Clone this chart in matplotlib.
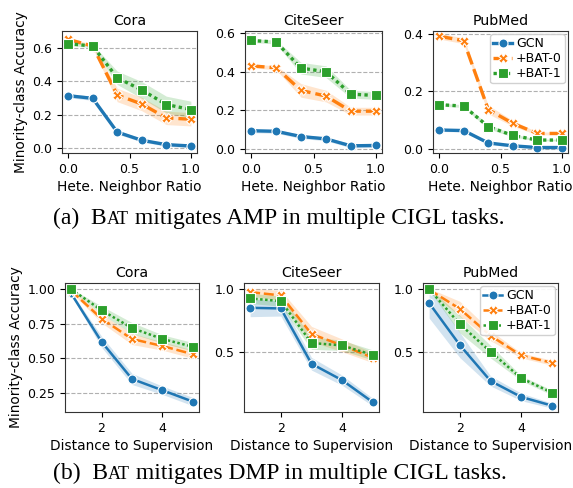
import matplotlib
matplotlib.use("Agg")
import matplotlib.pyplot as plt
import numpy as np

# x values
ratio = [0.0, 0.2, 0.4, 0.6, 0.8, 1.0]
dist = [1, 2, 3, 4, 5]

methods = ["GCN", "+BAT-0", "+BAT-1"]

# (a) hete. neighbor ratio -> minority-class accuracy
cora_a_gcn = [0.313, 0.297, 0.095, 0.046, 0.020, 0.012]
cora_a_bat0 = [0.650, 0.610, 0.317, 0.263, 0.180, 0.172]
cora_a_bat1 = [0.624, 0.610, 0.420, 0.347, 0.260, 0.230]
cite_a_gcn = [0.095, 0.092, 0.065, 0.053, 0.017, 0.019]
cite_a_bat0 = [0.430, 0.420, 0.303, 0.274, 0.196, 0.196]
cite_a_bat1 = [0.561, 0.553, 0.418, 0.400, 0.284, 0.277]
pub_a_gcn = [0.066, 0.064, 0.021, 0.011, 0.005, 0.005]
pub_a_bat0 = [0.392, 0.376, 0.137, 0.089, 0.054, 0.054]
pub_a_bat1 = [0.154, 0.149, 0.078, 0.047, 0.031, 0.031]

# band half widths
cora_a_gcn_sd = [0.012, 0.012, 0.012, 0.010, 0.010, 0.010]
cora_a_bat0_sd = [0.010, 0.010, 0.040, 0.040, 0.040, 0.040]
cora_a_bat1_sd = [0.010, 0.010, 0.040, 0.050, 0.050, 0.050]
cite_a_gcn_sd = [0.010, 0.010, 0.010, 0.010, 0.010, 0.010]
cite_a_bat0_sd = [0.010, 0.010, 0.035, 0.030, 0.020, 0.020]
cite_a_bat1_sd = [0.010, 0.010, 0.030, 0.030, 0.020, 0.020]
pub_a_gcn_sd = [0.005, 0.005, 0.005, 0.005, 0.004, 0.004]
pub_a_bat0_sd = [0.010, 0.010, 0.015, 0.010, 0.005, 0.005]
pub_a_bat1_sd = [0.005, 0.005, 0.008, 0.005, 0.003, 0.003]

# (b) distance to supervision -> minority-class accuracy
cora_b_gcn = [0.970, 0.620, 0.351, 0.269, 0.187]
cora_b_bat0 = [0.990, 0.787, 0.640, 0.589, 0.530]
cora_b_bat1 = [1.000, 0.848, 0.719, 0.640, 0.584]
cite_b_gcn = [0.852, 0.847, 0.410, 0.280, 0.106]
cite_b_bat0 = [0.976, 0.950, 0.645, 0.555, 0.458]
cite_b_bat1 = [0.926, 0.905, 0.574, 0.555, 0.479]
pub_b_gcn = [0.888, 0.553, 0.267, 0.139, 0.070]
pub_b_bat0 = [0.995, 0.842, 0.628, 0.470, 0.412]
pub_b_bat1 = [1.000, 0.720, 0.500, 0.289, 0.174]

cora_b_gcn_sd = [0.010, 0.040, 0.040, 0.030, 0.030]
cora_b_bat0_sd = [0.010, 0.030, 0.040, 0.030, 0.030]
cora_b_bat1_sd = [0.005, 0.030, 0.040, 0.030, 0.030]
cite_b_gcn_sd = [0.070, 0.060, 0.050, 0.040, 0.030]
cite_b_bat0_sd = [0.030, 0.040, 0.060, 0.050, 0.040]
cite_b_bat1_sd = [0.040, 0.040, 0.050, 0.040, 0.040]
pub_b_gcn_sd = [0.120, 0.100, 0.040, 0.030, 0.020]
pub_b_bat0_sd = [0.010, 0.060, 0.040, 0.020, 0.020]
pub_b_bat1_sd = [0.010, 0.070, 0.050, 0.020, 0.020]

colors = ["#1f77b4", "#ff7f0e", "#2ca02c"]
markers = ["o", "X", "s"]
dashes = [None, (4, 1.5), (1, 1)]

fig = plt.figure(figsize=(5.73, 4.88), dpi=100)

W, H = 573.0, 488.0
def add_ax(l, r, t, b):
    return fig.add_axes([l / W, 1 - b / H, (r - l) / W, (b - t) / H])

top_axes = [add_ax(62, 197, 31, 153), add_ax(245, 382, 31, 153), add_ax(433, 568, 31, 153)]
bot_axes = [add_ax(65, 199, 283, 412), add_ax(244, 379, 283, 412), add_ax(423, 558, 283, 412)]

def draw(ax, x, ys, sds, lw, ms):
    for i, (y, sd) in enumerate(zip(ys, sds)):
        y = np.array(y)
        sd = np.array(sd)
        ax.fill_between(x, y - sd, y + sd, color=colors[i], alpha=0.2, lw=0)
        line, = ax.plot(x, y, color=colors[i], lw=lw, marker=markers[i], ms=ms,
                        mec="white", mew=0.8, label=methods[i])
        if dashes[i] is not None:
            line.set_dashes(dashes[i])
    ax.grid(axis="y", ls="--", color="#b0b0b0", lw=0.8)
    ax.set_axisbelow(True)
    ax.tick_params(labelsize=9, length=3.5, width=0.8)
    for s in ax.spines.values():
        s.set_linewidth(0.8)
        s.set_color("#333333")

titles = ["Cora", "CiteSeer", "PubMed"]

a_data = [(cora_a_gcn, cora_a_bat0, cora_a_bat1),
          (cite_a_gcn, cite_a_bat0, cite_a_bat1),
          (pub_a_gcn, pub_a_bat0, pub_a_bat1)]
a_sd = [(cora_a_gcn_sd, cora_a_bat0_sd, cora_a_bat1_sd),
        (cite_a_gcn_sd, cite_a_bat0_sd, cite_a_bat1_sd),
        (pub_a_gcn_sd, pub_a_bat0_sd, pub_a_bat1_sd)]
b_data = [(cora_b_gcn, cora_b_bat0, cora_b_bat1),
          (cite_b_gcn, cite_b_bat0, cite_b_bat1),
          (pub_b_gcn, pub_b_bat0, pub_b_bat1)]
b_sd = [(cora_b_gcn_sd, cora_b_bat0_sd, cora_b_bat1_sd),
        (cite_b_gcn_sd, cite_b_bat0_sd, cite_b_bat1_sd),
        (pub_b_gcn_sd, pub_b_bat0_sd, pub_b_bat1_sd)]

a_ylim = [(-0.03, 0.70), (-0.02, 0.61), (-0.014, 0.41)]
a_yticks = [[0.0, 0.2, 0.4, 0.6], [0.0, 0.2, 0.4, 0.6], [0.0, 0.2, 0.4]]
b_ylim = [(0.112, 1.045), (0.029, 1.048), (0.019, 1.048)]
b_yticks = [[0.25, 0.5, 0.75, 1.0], [0.5, 1.0], [0.5, 1.0]]

for k, ax in enumerate(top_axes):
    draw(ax, ratio, a_data[k], a_sd[k], 2.4, 6.5)
    ax.set_xlim(-0.05, 1.05)
    ax.set_ylim(*a_ylim[k])
    ax.set_yticks(a_yticks[k])
    ax.set_xticks([0.0, 0.5, 1.0])
    ax.set_title(titles[k], fontsize=10.2, pad=4)
    ax.set_xlabel("Hete. Neighbor Ratio", fontsize=9.9, labelpad=3)

for k, ax in enumerate(bot_axes):
    draw(ax, dist, b_data[k], b_sd[k], 1.8, 6.5)
    ax.set_xlim(0.8, 5.2)
    ax.set_ylim(*b_ylim[k])
    ax.set_yticks(b_yticks[k])
    if k == 0:
        ax.set_yticklabels(["0.25", "0.50", "0.75", "1.00"])
    ax.set_xticks([2, 4])
    ax.set_title(titles[k], fontsize=10.2, pad=4)
    ax.set_xlabel("Distance to Supervision", fontsize=9.9, labelpad=3)

top_axes[0].set_ylabel("Minority-class Accuracy", fontsize=9.9, labelpad=3)
bot_axes[0].set_ylabel("Minority-class Accuracy", fontsize=9.9, labelpad=3)

for ax in (top_axes[2], bot_axes[2]):
    leg = ax.legend(loc="upper right", fontsize=9, handlelength=1.5, handletextpad=0.3,
                    borderpad=0.25, labelspacing=0.15, borderaxespad=0.25, framealpha=0.9)

# captions with small-caps "BAT"
fig.canvas.draw()
renderer = fig.canvas.get_renderer()

def caption(label, rest, y):
    fam = ["Liberation Serif", "DejaVu Serif"]
    parts = [(label + "  B", 17), ("AT", 13), (" " + rest, 17)]
    x = 53 / W
    for txt, fs in parts:
        t = fig.text(x, y, txt, fontsize=fs, family=fam, va="baseline", ha="left")
        bb = t.get_window_extent(renderer)
        x += bb.width / W

caption("(a)", "mitigates AMP in multiple CIGL tasks.", 1 - 224 / H)
caption("(b)", "mitigates DMP in multiple CIGL tasks.", 1 - 479 / H)

fig.savefig("out.png", dpi=100)
